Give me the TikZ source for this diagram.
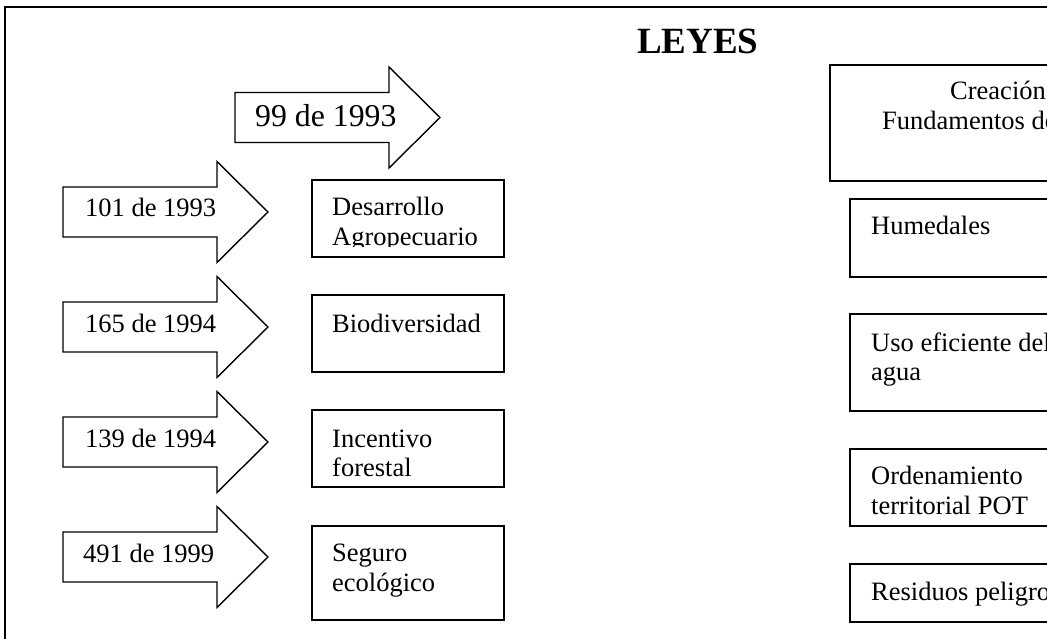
\documentclass[tikz,border=0pt]{standalone}
\usepackage{fontspec}
\setmainfont{Liberation Serif}
\begin{document}
\begin{tikzpicture}[x=1pt,y=-1pt,
  shapeline/.style={line width=1.4pt,line join=miter},
  lbl/.style={inner sep=0pt,anchor=base west,font=\fontsize{26.5}{30}\selectfont},
  boxnode/.style={draw,line width=1.4pt,rectangle,inner sep=0pt}]
\useasboundingbox (0,0) rectangle (1047,639);
\clip (0,0) rectangle (1047,639);
\fill[white] (0,0) rectangle (1047,639);
% frame
\draw[line width=1.4pt] (5,650) -- (5,7) -- (1060,7);
% title
\node[inner sep=0pt,anchor=base west,font=\bfseries\fontsize{37}{40}\selectfont] (title) at (637,54) {LEYES};
% arrow 99 de 1993
\draw[shapeline] (235,92.5) -- (389,92.5) -- (389,67) -- (440,117.5) -- (389,168) -- (389,142.5) -- (235,142.5) -- cycle;
\node[inner sep=0pt,anchor=base west,font=\fontsize{31.8}{36}\selectfont] (a0) at (255,127) {99 de 1993};
% left arrows
\foreach \cy/\nm in {212/a1,327/a2,442/a3,557/a4}{
  \draw[shapeline] (63,\cy-25) -- (217,\cy-25) -- (217,\cy-50.5) -- (268,\cy) -- (217,\cy+50.5) -- (217,\cy+25) -- (63,\cy+25) -- cycle;
}
\node[lbl] (t1) at (85,217) {101 de 1993};
\node[lbl] (t2) at (85,332) {165 de 1994};
\node[lbl] (t3) at (85,447) {139 de 1994};
\node[lbl] (t4) at (83,562) {491 de 1999};
% middle boxes
\node[boxnode,minimum width=192pt,minimum height=77pt] (b1) at (408,218.5) {};
\node[boxnode,minimum width=192pt,minimum height=77pt] (b2) at (408,333.5) {};
\node[boxnode,minimum width=192pt,minimum height=77pt] (b3) at (408,448.5) {};
\node[boxnode,minimum width=192pt,minimum height=94pt] (b4) at (408,573) {};
\node[lbl] (d1) at (332,216) {Desarrollo};
\begin{scope}
\clip (312,180) rectangle (504,246.5);
\node[lbl] (d2) at (332,246) {Agropecuario};
\end{scope}
\node[lbl] (bio) at (332,332) {Biodiversidad};
\node[lbl] (inc1) at (332,447) {Incentivo};
\node[lbl] (inc2) at (332,476) {forestal};
\node[lbl] (seg1) at (332,561) {Seguro};
\node[lbl] (seg2) at (332,591) {ecológico};
% right boxes
\node[boxnode,minimum width=240pt,minimum height=116pt] (r0) at (950,123) {};
\node[boxnode,minimum width=220pt,minimum height=78pt] (r1) at (960,238) {};
\node[boxnode,minimum width=220pt,minimum height=97pt] (r2) at (960,362.5) {};
\node[boxnode,minimum width=220pt,minimum height=77pt] (r3) at (960,487.5) {};
\node[boxnode,minimum width=220pt,minimum height=58pt] (r4) at (960,593) {};
\node[lbl] (c1) at (950,100) {Creación};
\node[lbl] (c2) at (882,130) {Fundamentos de};
\node[lbl] (h1) at (871,235) {Humedales};
\node[lbl] (u1) at (871,351) {Uso eficiente del};
\node[lbl] (u2) at (871,380) {agua};
\node[lbl] (o1) at (871,484) {Ordenamiento};
\node[lbl] (o2) at (871,514) {territorial POT};
\node[lbl] (res) at (871,600) {Residuos peligrosos};
\end{tikzpicture}
\end{document}
